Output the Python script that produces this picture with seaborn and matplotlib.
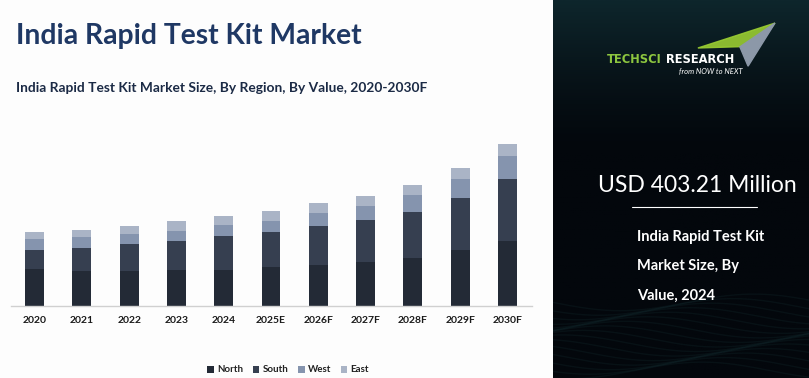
import numpy as np
import pandas as pd
import seaborn as sns
import matplotlib.pyplot as plt
from matplotlib.patches import Polygon, Patch

# data (USD Million)
years = ['2020', '2021', '2022', '2023', '2024', '2025E',
         '2026F', '2027F', '2028F', '2029F', '2030F']
north = [164, 158, 158, 163, 163, 173, 185, 198, 216, 249, 290]
south = [86, 102, 118, 129, 151, 158, 173, 187, 205, 233, 279]
west = [49, 48, 45, 43, 48, 49, 58, 63, 75, 86, 103]
east = [31, 33, 36, 48, 41, 45, 45, 45, 46, 49, 54]
regions = ['North', 'South', 'West', 'East']
colors = ['#232a36', '#363f50', '#8594ae', '#aab4c6']

sns.set_theme(style="white")
plt.rcParams['font.family'] = ['Lato', 'DejaVu Sans']

df = pd.DataFrame({'year': years, 'North': north, 'South': south,
                   'West': west, 'East': east})
# cumulative stacks, drawn from the top layer down
cum = df[regions].cumsum(axis=1)

fig = plt.figure(figsize=(8.09, 3.78), dpi=100)
fig.patch.set_facecolor('#fdfdfd')

# dark side panel
bg = fig.add_axes([553 / 809, 0, 256 / 809, 1])
grad = np.linspace(0, 1, 200)[:, None]
grad = np.clip((grad - 0.6) / 0.4, 0, 1) ** 1.3
img = np.zeros((200, 1, 3))
top = np.array([3, 7, 12]) / 255
bot = np.array([14, 38, 44]) / 255
img[:, 0, :] = top + (bot - top) * grad
bg.imshow(img, aspect='auto', extent=[0, 1, 1, 0])
xs = np.linspace(0, 1, 200)
for k in range(16):
    yy = 0.80 + 0.012 * k + 0.022 * np.sin(xs * 6 + k * 0.5)
    bg.plot(xs, 1 - yy, color='#2f6b6e', alpha=0.10, lw=1.0)
bg.set_xlim(0, 1)
bg.set_ylim(0, 1)
bg.axis('off')

# logo
bg.add_patch(Polygon([(0.566, 0.873), (0.867, 0.939), (0.80, 0.878)],
                     closed=True, color='#9acd32', alpha=0.9))
bg.add_patch(Polygon([(0.73, 0.876), (0.867, 0.939), (0.762, 0.825)],
                     closed=True, color='#8c98a8'))
t1 = bg.text(0.21, 0.843, 'TECHSCI', color='#8dc63f', fontsize=8.3,
             fontweight='bold', va='center', ha='left', family='DejaVu Sans')
bg.annotate(' RESEARCH', xy=(1, 0.5), xycoords=t1, color='white', fontsize=8.3,
            fontweight='bold', va='center', ha='left', family='DejaVu Sans')
bg.text(0.74, 0.813, 'from NOW to NEXT', color='white', fontsize=5.5,
        style='italic', va='center', ha='right')

bg.text(0.5625, 0.51, 'USD 403.21 Million', color='white', fontsize=16.5,
        va='center', ha='center')
bg.plot([0.31, 0.795], [0.452, 0.452], color='white', lw=0.8)
for i, line in enumerate(['India Rapid Test Kit', 'Market Size, By', 'Value, 2024']):
    bg.text(0.33, 0.373 - i * 0.078, line, color='white', fontsize=10.5,
            fontweight='bold', va='center', ha='left')

# titles
fig.text(16 / 809, 1 - 36 / 378, 'India Rapid Test Kit Market', fontsize=20.3,
         fontweight='bold', color='#1f3864', va='center', ha='left')
fig.text(16 / 809, 1 - 88 / 378,
         'India Rapid Test Kit Market Size, By Region, By Value, 2020-2030F',
         fontsize=9.9, fontweight='bold', color='#1b2a45', va='center', ha='left')

# bar chart
ax = fig.add_axes([11 / 809, 1 - 306 / 378, 521 / 809, 196.4 / 378])
ax.set_facecolor('#fdfdfd')
for reg, col in reversed(list(zip(regions, colors))):
    sns.barplot(x=df['year'], y=cum[reg], color=col, width=0.4,
                saturation=1, ax=ax, edgecolor='none')
ax.set_xlim(-0.5, 10.52)
ax.set_ylim(0, 880)
ax.set_xlabel('')
ax.set_ylabel('')
ax.set_yticks([])
for s in ['top', 'right', 'left']:
    ax.spines[s].set_visible(False)
ax.spines['bottom'].set_color('#d0d0d0')
ax.spines['bottom'].set_linewidth(1)
ax.tick_params(axis='x', length=0, pad=7)
for lab in ax.get_xticklabels():
    lab.set_fontsize(7.5)
    lab.set_fontweight('bold')
    lab.set_color('#1a1a1a')

handles = [Patch(facecolor=c, edgecolor='none', label=r) for r, c in zip(regions, colors)]
fig.legend(handles=handles, loc='center', bbox_to_anchor=(288 / 809, 1 - 370 / 378),
           ncol=4, frameon=False, prop={'size': 7, 'weight': 'bold'},
           handlelength=0.7, handleheight=0.7, handletextpad=0.3,
           columnspacing=1.0, labelcolor='#222222')

fig.savefig('out.png', dpi=100, facecolor=fig.get_facecolor())
